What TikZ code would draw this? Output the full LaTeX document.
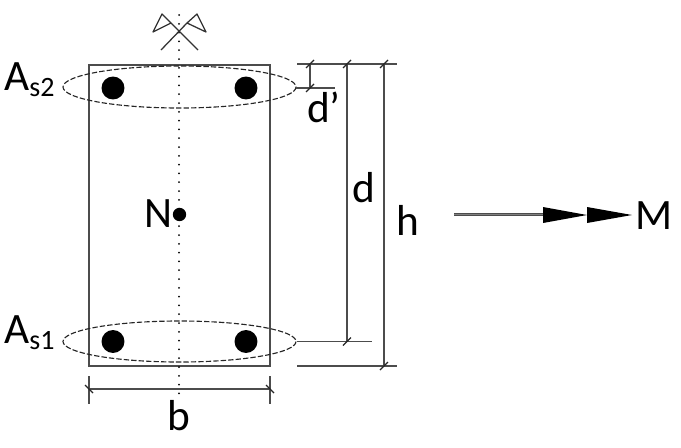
\documentclass[tikz,border=0pt]{standalone}
\usepackage{fontspec}
\setmainfont{Carlito}
\newcommand{\subtxt}[1]{{\fontsize{21}{21}\selectfont\raisebox{-5pt}{#1}}}
\tikzset{
  x=0.75pt,y=-0.75pt,
  lbl/.style={inner sep=0pt,font=\fontsize{32.5}{32.5}\selectfont,text=black},
  member/.style={draw=black!70,line width=1.2pt},
  dimline/.style={draw=black!70,line width=1.1pt},
  slash/.style={draw=black!85,line width=0.85pt},
  ell/.style={draw=black!85,line width=0.85pt,dash pattern=on 4pt off 1.6pt},
  axis/.style={draw=black,line width=1.5pt,line cap=round,dash pattern=on 0pt off 6.6pt},
  flag/.style={draw=black!80,line width=0.95pt,line join=round},
  bar/.style={circle,fill=black,draw=none,minimum size=17.2pt,inner sep=0pt},
  head/.style={fill=black,draw=none},
  pt/.style={circle,fill=black,draw=none,minimum size=10pt,inner sep=0pt}
}
\begin{document}
\begin{tikzpicture}
\useasboundingbox (0,0) rectangle (681,447);
% section
\coordinate (TL) at (89,65); \coordinate (BR) at (270,366);
\draw[member] (TL) rectangle (BR);
% axis
\coordinate (axT) at (179,15); \coordinate (axB) at (179,400);
\draw[axis] (axT) -- (axB);
% moment symbol
\coordinate (c1) at (198,50); \coordinate (f1) at (171,23);
\coordinate (c2) at (161,50); \coordinate (f2) at (187,23);
\draw[flag] (c1) -- (f1) -- (162,14) -- (153,32) -- (f1);
\draw[flag] (c2) -- (f2) -- (197,14) -- (206,32) -- (f2);
% bars and groups
\coordinate (e2) at (179.5,87); \coordinate (e1) at (179.5,341.5);
\draw[ell] (e2) circle[x radius=116.5,y radius=21];
\draw[ell] (e1) circle[x radius=116.5,y radius=20.5];
\node[bar] (b1) at (113,88) {};
\node[bar] (b2) at (246,88) {};
\node[bar] (b3) at (113,341.5) {};
\node[bar] (b4) at (246,341.5) {};
\node[pt] (n) at (179.5,214.5) {};
% dimension coordinates
\coordinate (t0) at (297,64); \coordinate (t1) at (397,64);
\coordinate (dpL) at (296,88); \coordinate (dpR) at (335,88);
\coordinate (dL) at (297,341.5); \coordinate (dR) at (372,341.5);
\coordinate (hL) at (297,366); \coordinate (hR) at (397,366);
\coordinate (dpT) at (310,64); \coordinate (dpB) at (310,88);
\coordinate (dT) at (347,64); \coordinate (dB) at (347,341.5);
\coordinate (hT) at (384,64); \coordinate (hB) at (384,366);
\coordinate (bL) at (89,389); \coordinate (bR) at (270,389);
\draw[dimline] (t0) -- (t1);
\draw[dimline] (dpL) -- (dpR);
\draw[dimline] (dL) -- (dR);
\draw[dimline] (hL) -- (hR);
\draw[dimline] (dpT) -- (dpB);
\draw[dimline] (dT) -- (dB);
\draw[dimline] (hT) -- (hB);
\draw[dimline] (bL) -- (bR);
\draw[dimline] (89,376) -- (89,404);
\draw[dimline] (270,376) -- (270,404);
\foreach \p in {dpT,dpB,dT,dB,hT,hB}
  \draw[slash] ([shift={(-4,4)}]\p) -- ([shift={(4,-4)}]\p);
\draw[slash] ([shift={(-4,-4)}]bL) -- ([shift={(4,4)}]bL);
\draw[slash] ([shift={(-4,-4)}]bR) -- ([shift={(4,4)}]bR);
% moment arrow
\coordinate (m0) at (454,214.5); \coordinate (m1) at (545,214.5);
\draw[draw=black!70,line width=2.4pt] (m0) -- (m1);
\draw[draw=black!50,line width=0.5pt] (m0) -- (m1);
\fill[head] (543,207) -- (587,215) -- (543,223) -- cycle;
\fill[head] (587,207) -- (632,215) -- (587,223) -- cycle;
% labels
\node[lbl,anchor=base west] (as2) at (4,90) {A\subtxt{s2}};
\node[lbl,anchor=base west] (as1) at (4,343) {A\subtxt{s1}};
\node[lbl] (N) at (158,214) {N};
\node[lbl] (bb) at (179,416) {b};
\node[lbl] (dd) at (364,188) {d};
\node[lbl] (dp) at (324,107) {d’};
\node[lbl] (hh) at (408,220) {h};
\node[lbl] (MM) at (654,216) {M};
\end{tikzpicture}
\end{document}
